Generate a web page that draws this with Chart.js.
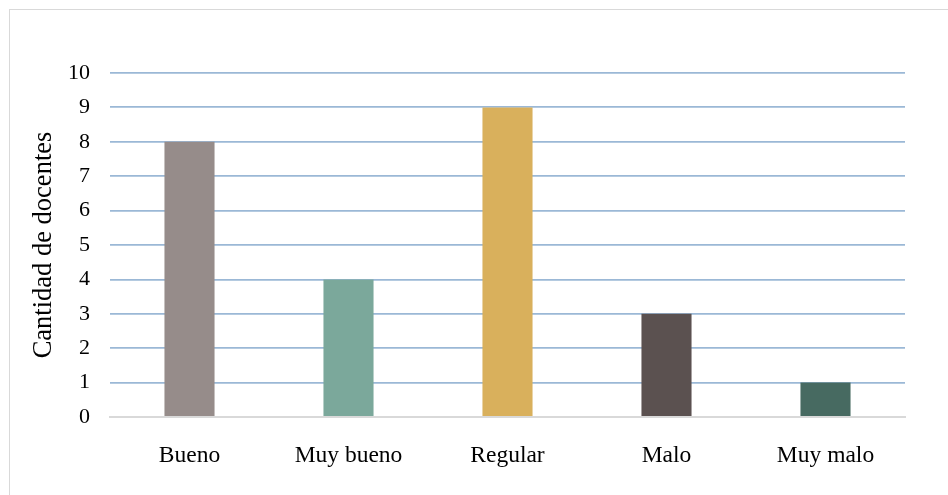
<!DOCTYPE html>
<html lang="es">
<head>
    <meta charset="UTF-8">
    <title>Cantidad de docentes</title>
    <script src="https://cdn.jsdelivr.net/npm/chart.js"></script>
    <style>
        html, body {
            margin: 0;
            padding: 0;
            background: #fff;
        }
        .frame {
            position: absolute;
            left: 9px;
            top: 9px;
            width: 939px;
            height: 486px;
            border-left: 1px solid #d9d9d9;
            border-top: 1px solid #d9d9d9;
        }
        .chart-container {
            position: absolute;
            left: 0;
            top: 0;
            width: 948px;
            height: 495px;
        }
    </style>
</head>
<body>
    <div class="frame"></div>
    <div class="chart-container">
        <canvas id="docentesChart"></canvas>
    </div>

    <script>
        const categories = ['Bueno', 'Muy bueno', 'Regular', 'Malo', 'Muy malo'];
        const counts = [8, 4, 9, 3, 1];
        const barColors = ['#968c8a', '#7ba89b', '#d9b05c', '#5b5150', '#476a61'];
        const yTitle = 'Cantidad de docentes';

        const serif = "'Liberation Serif', 'Times New Roman', serif";

        const ctx = document.getElementById('docentesChart').getContext('2d');
        new Chart(ctx, {
            type: 'bar',
            data: {
                labels: categories,
                datasets: [{
                    data: counts,
                    backgroundColor: barColors,
                    borderWidth: 0,
                    categoryPercentage: 1,
                    barPercentage: 0.315
                }]
            },
            options: {
                responsive: true,
                maintainAspectRatio: false,
                animation: false,
                layout: {
                    padding: { top: 73, right: 43, bottom: 0, left: 0 }
                },
                plugins: {
                    legend: { display: false },
                    tooltip: { enabled: false }
                },
                scales: {
                    x: {
                        grid: { display: false, drawTicks: false },
                        border: { display: true, color: '#d9d9d9', width: 2 },
                        ticks: {
                            color: '#000',
                            font: { family: serif, size: 23.5 },
                            padding: 25,
                            maxRotation: 0
                        },
                        afterFit: s => { s.height = 78; }
                    },
                    y: {
                        min: 0,
                        max: 10,
                        ticks: {
                            stepSize: 1,
                            color: '#000',
                            font: { family: serif, size: 22 },
                            padding: 20
                        },
                        grid: {
                            color: c => c.tick.value === 0 ? 'rgba(0,0,0,0)' : '#9bb8d6',
                            lineWidth: 1.8,
                            drawTicks: false
                        },
                        border: { display: false },
                        title: {
                            display: true,
                            text: yTitle,
                            color: '#000',
                            font: { family: serif, size: 26.5 },
                            padding: { top: 28, bottom: 0 }
                        },
                        afterFit: s => { s.width = 110; }
                    }
                }
            }
        });
    </script>
</body>
</html>
